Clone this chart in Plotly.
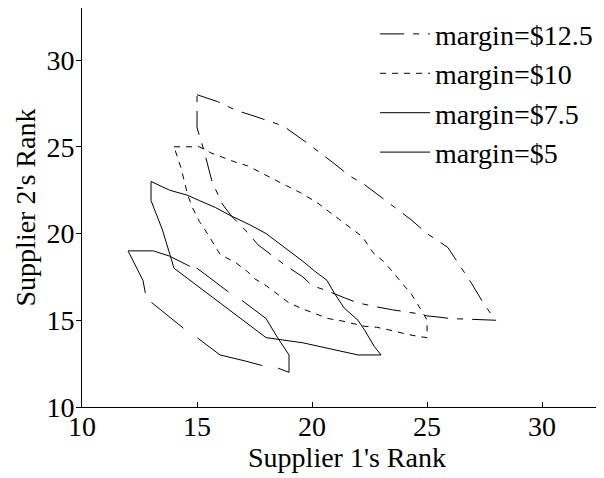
import plotly.graph_objects as go

# margin = $12.5 (dash-dot)
x_125 = [15, 15.9, 16.7, 17.3, 18.2, 18.75, 19.7, 20.4, 20.9, 21.65, 22.2, 23, 23.7, 24.3, 25, 25.9, 26.5, 26.9, 27.4, 27.65, 28,
         27, 26, 25.4, 25, 24.5, 23.5, 22.7, 22, 21.4, 20.65, 20, 19.6, 18.8, 18.3, 17.65, 17.1, 16.5, 16.1, 15.65, 15.3, 15, 15, 15]
y_125 = [28, 27.6, 27.1, 26.85, 26.45, 26.2, 25.3, 24.6, 24.1, 23.3, 22.9, 22.1, 21.4, 20.8, 20, 19.2, 18, 17.2, 16.1, 15.6, 15,
         15.05, 15.1, 15.2, 15.25, 15.4, 15.6, 15.8, 16, 16.3, 16.7, 17, 17.5, 18.2, 18.7, 19.35, 20.2, 21, 21.7, 23, 24.8, 26.1, 27.3, 28]

# margin = $10 (dashed)
x_10 = [14, 15.1, 15.6, 16.1, 16.7, 17.2, 17.8, 18.3, 18.9, 19.5, 20.2, 20.7, 21.2, 21.7, 22.2, 22.65, 23.1, 23.5, 23.9, 24.3, 24.6, 24.9, 25, 25,
        24.7, 24.1, 23.5, 22.8, 22.3, 21.3, 20.7, 20.1, 19.6, 19, 18.5, 18, 17.5, 17.2, 16.7, 16, 15.5, 15.1, 14.8, 14.6, 14.3, 14]
y_10 = [25, 25, 24.65, 24.4, 24.1, 23.9, 23.5, 23.15, 22.75, 22.35, 21.8, 21.3, 20.8, 20.3, 19.8, 18.9, 18.4, 17.8, 17.15, 16.55, 15.9, 15.25, 15, 14,
        14.05, 14.2, 14.4, 14.6, 14.65, 14.96, 15.1, 15.4, 15.65, 16, 16.5, 17, 17.4, 17.8, 18.3, 18.8, 19.9, 20.7, 21.5, 22.2, 23.8, 25]

# margin = $7.5 (solid)
x_75 = [13, 13.8, 14.6, 15.1, 15.8, 16.5, 17.3, 18, 19, 19.6, 20.1, 20.65, 21, 21.4, 22, 22.3, 22.7, 23,
        22, 19.6, 18, 16, 14, 13.5, 13, 13]
y_75 = [23, 22.5, 22.2, 21.9, 21.5, 21, 20.5, 20, 19, 18.4, 17.85, 17.3, 16.5, 15.7, 15, 14.4, 13.5, 13,
        13, 13.7, 14, 16, 18, 20.2, 21.9, 23]

# margin = $5
x_5 = [12, 13.1, 13.8, 14.7, 15, 16.4, 17, 18, 18.5, 19, 19, 18.5, 17.8, 17.1, 16, 15, 14.4, 13, 12.75, 12.65, 12]
y_5 = [19, 19, 18.7, 18.1, 18, 16.6, 16.1, 15.1, 14, 13, 12, 12.25, 12.4, 12.65, 13, 14, 14.55, 16.05, 16.6, 17.3, 19]

labels = ["margin=$12.5", "margin=$10", "margin=$7.5", "margin=$5"]
x_ticks = [10, 15, 20, 25, 30]
y_ticks = [10, 15, 20, 25, 30]

FONT = "Liberation Serif, Times New Roman, serif"

fig = go.Figure()
series = [
    (x_125, y_125, labels[0], "24px,9px,6px,9px"),
    (x_10, y_10, labels[1], "6px,6px"),
    (x_75, y_75, labels[2], "solid"),
    (x_5, y_5, labels[3], "65px,7px,40px,16px,102px,16px,72px,17px,41px,11px,46px,40px"),
]
for xs, ys, name, dash in series:
    fig.add_trace(go.Scatter(x=xs, y=ys, mode="lines", name=name,
                             line=dict(color="black", width=1, dash=dash, simplify=False)))

fig.update_layout(
    width=604, height=478,
    margin=dict(l=74, r=0, t=0, b=79, autoexpand=False),
    plot_bgcolor="white", paper_bgcolor="white",
    font=dict(family=FONT, size=28, color="black"),
    showlegend=True,
    legend=dict(x=0.553, y=0.997, xanchor="left", yanchor="top",
                bgcolor="rgba(0,0,0,0)", borderwidth=0,
                font=dict(family=FONT, size=28, color="black"),
                tracegroupgap=0, itemwidth=50),
)
fig.update_xaxes(range=[10, 33.04], tickvals=x_ticks, ticks="inside", ticklen=5, tickcolor="black",
                 showline=True, linecolor="black", linewidth=1, showgrid=False, zeroline=False,
                 automargin=False, ticklabelstandoff=-6,
                 title=dict(text="Supplier 1's Rank", font=dict(family=FONT, size=28), standoff=0),
                 tickfont=dict(family=FONT, size=28))
fig.update_yaxes(range=[10, 33], tickvals=y_ticks, ticks="outside", ticklen=5, tickcolor="black",
                 showline=True, linecolor="black", linewidth=1, showgrid=False, zeroline=False,
                 automargin=False, ticklabelstandoff=-4,
                 title=dict(text="Supplier 2's Rank", font=dict(family=FONT, size=28), standoff=2),
                 tickfont=dict(family=FONT, size=28))

fig.write_html("out.html")
